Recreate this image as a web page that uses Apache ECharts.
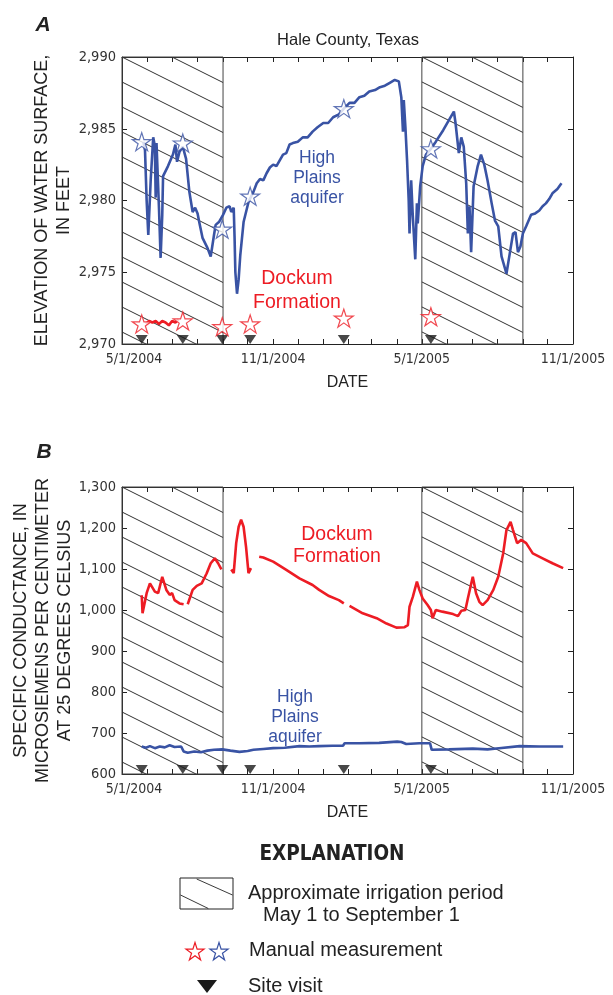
<!DOCTYPE html>
<html lang="en">
<head>
<meta charset="UTF-8">
<title>Hale County, Texas</title>
<style>
  html, body { margin: 0; padding: 0; background: #fff; }
  #chart { width: 613px; height: 995px; }
</style>
<script src="https://cdn.jsdelivr.net/npm/echarts@6/dist/echarts.min.js"></script>
</head>
<body>
<div id="chart"></div>
<script>
// irrigation periods (May 1 - Sept 1)
const irrigation = [['2004-05-01', '2004-09-01'], ['2005-05-01', '2005-09-01']];
// site visits and manual measurements
const siteVisits = ['2004-05-25', '2004-07-14', '2004-08-31', '2004-10-04', '2005-01-26', '2005-05-12'];
const hpManual = [2984.1, 2984.0, 2978.0, 2980.3, 2986.4, 2983.6];
const dkManual = [2971.4, 2971.6, 2971.2, 2971.4, 2971.8, 2971.9];

// A - water level, High Plains aquifer
const hpLevel = [
  ['2004-05-27', 2984.1], ['2004-05-29', 2983.5], ['2004-05-31', 2980.0], ['2004-06-02', 2977.6],
  ['2004-06-05', 2981.5], ['2004-06-08', 2984.4], ['2004-06-10', 2983.8], ['2004-06-11', 2980.2],
  ['2004-06-12', 2984.0], ['2004-06-13', 2983.9], ['2004-06-15', 2979.5], ['2004-06-17', 2976.0],
  ['2004-06-19', 2979.0], ['2004-06-20', 2981.7], ['2004-06-26', 2982.4], ['2004-07-02', 2983.2],
  ['2004-07-05', 2983.9], ['2004-07-07', 2982.7], ['2004-07-10', 2983.4], ['2004-07-14', 2983.75],
  ['2004-07-18', 2982.9], ['2004-07-22', 2980.6], ['2004-07-26', 2979.2], ['2004-07-29', 2979.5],
  ['2004-08-01', 2979.1], ['2004-08-03', 2978.5], ['2004-08-07', 2977.4], ['2004-08-13', 2976.7],
  ['2004-08-17', 2976.1], ['2004-08-21', 2977.6], ['2004-08-23', 2978.3], ['2004-08-27', 2978.5],
  ['2004-09-01', 2979.0], ['2004-09-05', 2979.5], ['2004-09-09', 2979.6], ['2004-09-11', 2979.2],
  ['2004-09-14', 2979.5], ['2004-09-15', 2977.5], ['2004-09-16', 2975.0], ['2004-09-18', 2973.5],
  ['2004-09-20', 2974.5], ['2004-09-22', 2976.2], ['2004-09-26', 2978.5], ['2004-10-02', 2979.9],
  ['2004-10-08', 2980.6], ['2004-10-12', 2981.2], ['2004-10-16', 2981.5], ['2004-10-20', 2981.4],
  ['2004-10-24', 2981.9], ['2004-10-28', 2982.3], ['2004-11-01', 2982.5], ['2004-11-05', 2982.4],
  ['2004-11-09', 2982.8], ['2004-11-13', 2983.2], ['2004-11-17', 2983.3], ['2004-11-21', 2983.9],
  ['2004-11-25', 2984.0], ['2004-12-01', 2984.1], ['2004-12-07', 2984.4], ['2004-12-13', 2984.4],
  ['2004-12-19', 2984.8], ['2004-12-25', 2985.1], ['2005-01-01', 2985.4], ['2005-01-07', 2985.4],
  ['2005-01-13', 2985.8], ['2005-01-20', 2986.0], ['2005-01-26', 2986.4], ['2005-02-02', 2986.8],
  ['2005-02-08', 2986.8], ['2005-02-14', 2987.2], ['2005-02-20', 2987.3], ['2005-02-26', 2987.6],
  ['2005-03-05', 2987.7], ['2005-03-11', 2987.9], ['2005-03-17', 2988.0], ['2005-03-23', 2988.2],
  ['2005-03-29', 2988.4], ['2005-04-03', 2988.3], ['2005-04-06', 2987.2], ['2005-04-08', 2984.8],
  ['2005-04-09', 2987.0], ['2005-04-11', 2985.1], ['2005-04-13', 2982.8], ['2005-04-15', 2980.0],
  ['2005-04-16', 2977.7], ['2005-04-18', 2981.4], ['2005-04-20', 2978.9], ['2005-04-23', 2975.9],
  ['2005-04-25', 2979.8], ['2005-04-26', 2978.4], ['2005-04-29', 2981.0], ['2005-05-02', 2982.4],
  ['2005-05-06', 2983.2], ['2005-05-12', 2983.6], ['2005-05-18', 2984.1], ['2005-05-27', 2984.9],
  ['2005-06-04', 2985.7], ['2005-06-09', 2986.2], ['2005-06-11', 2985.4], ['2005-06-15', 2983.3],
  ['2005-06-18', 2984.4], ['2005-06-21', 2983.75], ['2005-06-24', 2981.2], ['2005-06-26', 2977.7],
  ['2005-06-28', 2979.6], ['2005-06-30', 2976.4], ['2005-07-03', 2981.0], ['2005-07-08', 2982.4],
  ['2005-07-12', 2983.2], ['2005-07-16', 2982.5], ['2005-07-20', 2981.4], ['2005-07-25', 2979.8],
  ['2005-07-29', 2978.6], ['2005-08-02', 2978.2], ['2005-08-06', 2976.1], ['2005-08-12', 2974.9],
  ['2005-08-16', 2976.3], ['2005-08-20', 2977.7], ['2005-08-23', 2977.8], ['2005-08-26', 2976.4],
  ['2005-08-29', 2976.8], ['2005-09-01', 2977.7], ['2005-09-05', 2978.2], ['2005-09-11', 2979.0],
  ['2005-09-16', 2979.1], ['2005-09-21', 2979.3], ['2005-09-25', 2979.6], ['2005-09-29', 2979.8],
  ['2005-10-03', 2980.1], ['2005-10-07', 2980.5], ['2005-10-13', 2980.8], ['2005-10-18', 2981.2]
];
// A - water level, Dockum Formation
const dkLevel = [
  ['2004-05-30', 2971.4], ['2004-06-03', 2971.6], ['2004-06-07', 2971.5], ['2004-06-11', 2971.6],
  ['2004-06-15', 2971.4], ['2004-06-19', 2971.6], ['2004-06-23', 2971.5], ['2004-06-27', 2971.3],
  ['2004-07-01', 2971.6], ['2004-07-05', 2971.5], ['2004-07-09', 2971.7]
];

// B - specific conductance, Dockum Formation (null = gap in record)
const dkCond = [
  ['2004-05-25', 1036], ['2004-05-26', 992], ['2004-05-31', 1041], ['2004-06-04', 1065],
  ['2004-06-10', 1045], ['2004-06-14', 1041], ['2004-06-19', 1081], ['2004-06-24', 1049],
  ['2004-06-28', 1037], ['2004-07-01', 1041], ['2004-07-04', 1024], ['2004-07-10', 1016],
  ['2004-07-15', 1014], ['2004-07-17', null],
  ['2004-07-20', 1014], ['2004-07-26', 1049], ['2004-07-31', 1059], ['2004-08-06', 1065],
  ['2004-08-12', 1089], ['2004-08-17', 1114], ['2004-08-22', 1126], ['2004-08-26', 1114],
  ['2004-08-30', 1099], ['2004-09-05', null],
  ['2004-09-11', 1099], ['2004-09-14', 1090], ['2004-09-17', 1163], ['2004-09-20', 1203],
  ['2004-09-23', 1220], ['2004-09-26', 1203], ['2004-09-29', 1154], ['2004-10-02', 1090],
  ['2004-10-05', 1102], ['2004-10-10', null],
  ['2004-10-15', 1130], ['2004-10-20', 1128], ['2004-11-01', 1118], ['2004-11-17', 1098],
  ['2004-12-03', 1077], ['2004-12-19', 1061], ['2004-12-27', 1049], ['2005-01-08', 1034],
  ['2005-01-20', 1024], ['2005-01-26', 1016], ['2005-01-29', null],
  ['2005-02-02', 1010], ['2005-02-18', 992], ['2005-03-07', 980], ['2005-03-19', 967],
  ['2005-03-31', 957], ['2005-04-10', 958], ['2005-04-14', 963], ['2005-04-16', 1008],
  ['2005-04-20', 1032], ['2005-04-25', 1069], ['2005-04-28', 1049], ['2005-05-02', 1028],
  ['2005-05-08', 1012], ['2005-05-12', 1000], ['2005-05-14', 980], ['2005-05-18', 1000],
  ['2005-05-26', 996], ['2005-06-08', 990], ['2005-06-14', 985], ['2005-06-18', 998],
  ['2005-06-23', 1000], ['2005-06-26', 1028], ['2005-07-02', 1081], ['2005-07-06', 1041],
  ['2005-07-10', 1020], ['2005-07-14', 1012], ['2005-07-20', 1024], ['2005-07-27', 1049],
  ['2005-08-02', 1081], ['2005-08-08', 1138], ['2005-08-12', 1195], ['2005-08-17', 1215],
  ['2005-08-20', 1195], ['2005-08-25', 1163], ['2005-08-30', 1171], ['2005-09-05', 1163],
  ['2005-09-13', 1138], ['2005-09-25', 1126], ['2005-10-07', 1114], ['2005-10-20', 1102]
];
// B - specific conductance, High Plains aquifer
const hpCond = [
  ['2004-05-25', 667], ['2004-05-30', 664], ['2004-06-04', 668], ['2004-06-10', 663],
  ['2004-06-16', 667], ['2004-06-22', 665], ['2004-06-28', 670], ['2004-07-04', 666],
  ['2004-07-12', 667], ['2004-07-15', 655], ['2004-07-20', 652], ['2004-07-28', 655],
  ['2004-08-05', 653], ['2004-08-13', 657], ['2004-08-21', 659], ['2004-08-31', 660],
  ['2004-09-10', 657], ['2004-09-21', 654], ['2004-10-01', 656], ['2004-10-08', 659],
  ['2004-10-20', 661], ['2004-11-01', 663], ['2004-11-15', 664], ['2004-12-03', 668],
  ['2004-12-15', 667], ['2004-12-27', 668], ['2005-01-12', 669], ['2005-01-25', 669],
  ['2005-01-27', 675], ['2005-02-14', 675], ['2005-03-10', 676], ['2005-04-01', 679],
  ['2005-04-06', 678], ['2005-04-12', 673], ['2005-04-28', 675], ['2005-05-11', 675],
  ['2005-05-13', 659], ['2005-06-03', 660], ['2005-07-02', 662], ['2005-07-20', 660],
  ['2005-08-03', 663], ['2005-08-28', 668], ['2005-09-21', 667], ['2005-10-20', 667]
];

const dateLabels = ['2004-05-01', '2004-11-01', '2005-05-01', '2005-11-01'];
const levelAxis = { min: 2970, max: 2990, interval: 5 };
const condAxis = { min: 600, max: 1300, interval: 100 };

const BLUE = '#3953a4';
const RED = '#ed1c24';
const INK = '#222';
const FONT = "'Liberation Sans', Arial, sans-serif";
const NARROW = "'Liberation Sans Narrow', 'DejaVu Sans Condensed', sans-serif";
// five-point star outline in a 100 x 100 box
const STAR_PTS = [[50, 0], [61.17, 34.63], [97.55, 34.55], [68.07, 55.87], [79.39, 90.45],
  [50, 69], [20.61, 90.45], [31.93, 55.87], [2.45, 34.55], [38.83, 34.63]];
const STAR = 'path://M' + STAR_PTS.map(p => p.join(' ')).join('L') + 'Z';

// dates become timestamps on a plain value axis
const t = s => +echarts.time.parse(s);
const ts = arr => arr.map(p => [t(p[0]), p[1]]);
const monthTicks = [];
for (let m = 0; m <= 18; m++) monthTicks.push(+new Date(2004, 4 + m, 1));

// diagonal hatch tile, lines slope down to the right
function hatch(phase) {
  const c = document.createElement('canvas');
  c.width = 50; c.height = 25;
  const g = c.getContext('2d');
  g.strokeStyle = '#1a1a1a';
  g.lineWidth = 0.9;
  for (let k = -2; k <= 2; k++) {
    g.beginPath();
    g.moveTo(0, phase + 25 * k);
    g.lineTo(50, phase + 25 * k + 25);
    g.stroke();
  }
  return c;
}

function starAt(cx, cy, w, h) {
  return STAR_PTS.map(p => [cx + (p[0] - 50) * w / 100, cy + (p[1] - 47) * h / 94]);
}

function fmtDate(v) {
  const d = new Date(v);
  const s = (d.getMonth() + 1) + '/' + d.getDate() + '/' + d.getFullYear();
  return v === t(dateLabels[0]) ? '{first|' + s + '}' : s;
}

function xAxes(grid, nameText) {
  const base = {
    type: 'value', gridIndex: grid,
    min: t(dateLabels[0]), max: t(dateLabels[3]),
    axisLine: { show: true, onZero: false, lineStyle: { color: INK, width: 1 } },
    axisTick: { show: true, inside: true, length: 5, customValues: monthTicks, lineStyle: { color: INK } },
    splitLine: { show: false }
  };
  return [
    Object.assign({}, base, {
      position: 'bottom',
      name: nameText, nameLocation: 'middle', nameGap: 31, nameMoveOverlap: false,
      nameTextStyle: { fontFamily: FONT, fontSize: 16, color: INK },
      axisLabel: {
        customValues: dateLabels.map(t), formatter: fmtDate, margin: 8,
        fontFamily: NARROW, fontSize: 14, color: '#333',
        rich: { first: { fontFamily: NARROW, fontSize: 14, color: '#333', padding: [0, 0, 0, 24] } }
      }
    }),
    Object.assign({}, base, { position: 'top', axisLabel: { show: false } })
  ];
}

function yAxes(grid, range, nameText, gap) {
  const base = {
    type: 'value', gridIndex: grid,
    min: range.min, max: range.max, interval: range.interval,
    axisLine: { show: true, onZero: false, lineStyle: { color: INK, width: 1 } },
    axisTick: { show: true, inside: true, length: 5, lineStyle: { color: INK } },
    splitLine: { show: false }
  };
  return [
    Object.assign({}, base, {
      position: 'left',
      name: nameText, nameLocation: 'middle', nameGap: gap, nameMoveOverlap: false,
      nameTextStyle: { fontFamily: FONT, fontSize: 18, color: INK, lineHeight: 22, align: 'center' },
      axisLabel: {
        margin: 6, fontFamily: NARROW, fontSize: 14.5, color: '#333',
        formatter: v => v.toLocaleString('en-US')
      }
    }),
    Object.assign({}, base, { position: 'right', axisLabel: { show: false } })
  ];
}

function hatchSeries(xi, yi, phase) {
  return {
    type: 'line', xAxisIndex: xi, yAxisIndex: yi, data: [], z: 1, silent: true,
    markArea: {
      silent: true,
      itemStyle: {
        color: { image: hatch(phase), repeat: 'repeat' },
        borderColor: '#444', borderWidth: 1
      },
      data: irrigation.map(p => [{ xAxis: t(p[0]) }, { xAxis: t(p[1]) }])
    }
  };
}

function lineSeries(xi, yi, data, color) {
  return {
    type: 'line', xAxisIndex: xi, yAxisIndex: yi, data: ts(data), z: 3,
    showSymbol: false, connectNulls: false,
    lineStyle: { color: color, width: 2.6 }
  };
}

function visitSeries(xi, yi, yMin) {
  return {
    type: 'scatter', xAxisIndex: xi, yAxisIndex: yi, z: 4, clip: false,
    symbol: 'triangle', symbolRotate: 180, symbolSize: [12, 9], symbolOffset: [0, -4.5],
    itemStyle: { color: '#1a1a1a' },
    data: siteVisits.map(d => [t(d), yMin])
  };
}

function starSeries(values, color) {
  return {
    type: 'scatter', xAxisIndex: 0, yAxisIndex: 0, z: 5,
    symbol: STAR, symbolSize: [19, 18],
    itemStyle: { color: '#fff', borderColor: color, borderWidth: 1.2 },
    data: siteVisits.map((d, i) => [t(d), values[i]])
  };
}

const chart = echarts.init(document.getElementById('chart'), null, { renderer: 'canvas' });

chart.setOption({
  animation: false,
  backgroundColor: '#fff',
  grid: [
    { left: 122, right: 40, top: 57, height: 287, outerBoundsMode: 'none', containLabel: false },
    { left: 122, right: 40, top: 487, height: 287, outerBoundsMode: 'none', containLabel: false }
  ],
  xAxis: [].concat(xAxes(0, 'DATE'), xAxes(1, 'DATE')),
  yAxis: [].concat(
    yAxes(0, levelAxis, 'ELEVATION OF WATER SURFACE,\nIN FEET', 47),
    yAxes(1, condAxis, 'SPECIFIC CONDUCTANCE, IN\nMICROSIEMENS PER CENTIMETER\nAT 25 DEGREES CELSIUS', 46)
  ),
  series: [
    hatchSeries(0, 0, 21),
    lineSeries(0, 0, dkLevel, RED),
    lineSeries(0, 0, hpLevel, BLUE),
    visitSeries(0, 0, levelAxis.min),
    starSeries(dkManual, RED),
    starSeries(hpManual, BLUE),
    hatchSeries(2, 2, 1),
    lineSeries(2, 2, dkCond, RED),
    lineSeries(2, 2, hpCond, BLUE),
    visitSeries(2, 2, condAxis.min)
  ],
  graphic: [
    { type: 'text', x: 43, y: 25, style: { text: 'A', font: 'italic bold 21px ' + FONT, fill: INK, textAlign: 'center', textVerticalAlign: 'middle' } },
    { type: 'text', x: 44, y: 452, style: { text: 'B', font: 'italic bold 21px ' + FONT, fill: INK, textAlign: 'center', textVerticalAlign: 'middle' } },
    { type: 'text', x: 348, y: 40, style: { text: 'Hale County, Texas', font: '16.5px ' + FONT, fill: INK, textAlign: 'center', textVerticalAlign: 'middle' } },
    // panel A labels
    { type: 'text', x: 317, y: 178, z: 10, style: { text: 'High\nPlains\naquifer', font: '17.5px ' + FONT, lineHeight: 20, fill: BLUE, textAlign: 'center', textVerticalAlign: 'middle' } },
    { type: 'text', x: 297, y: 291, z: 10, style: { text: 'Dockum\nFormation', font: '19.5px ' + FONT, lineHeight: 24, fill: RED, textAlign: 'center', textVerticalAlign: 'middle' } },
    // panel B labels
    { type: 'text', x: 337, y: 546, z: 10, style: { text: 'Dockum\nFormation', font: '19.5px ' + FONT, lineHeight: 22, fill: RED, textAlign: 'center', textVerticalAlign: 'middle' } },
    { type: 'text', x: 295, y: 717, z: 10, style: { text: 'High\nPlains\naquifer', font: '17.5px ' + FONT, lineHeight: 20, fill: BLUE, textAlign: 'center', textVerticalAlign: 'middle' } },
    // explanation
    { type: 'text', x: 332, y: 855, style: { text: 'EXPLANATION', font: 'bold 20.5px ' + NARROW, fill: INK, textAlign: 'center', textVerticalAlign: 'middle' } },
    { type: 'rect', shape: { x: 180, y: 878, width: 53, height: 31 }, style: { fill: '#fff', stroke: INK, lineWidth: 1 } },
    { type: 'line', shape: { x1: 196.7, y1: 879, x2: 232.5, y2: 895 }, style: { stroke: INK, lineWidth: 0.9 } },
    { type: 'line', shape: { x1: 180.5, y1: 895, x2: 208.3, y2: 908.5 }, style: { stroke: INK, lineWidth: 0.9 } },
    { type: 'text', x: 248, y: 893, style: { text: 'Approximate irrigation period', font: '20px ' + FONT, fill: INK, textVerticalAlign: 'middle' } },
    { type: 'text', x: 263, y: 915, style: { text: 'May 1 to September 1', font: '20px ' + FONT, fill: INK, textVerticalAlign: 'middle' } },
    { type: 'polygon', shape: { points: starAt(195, 951.5, 19, 18) }, style: { fill: '#fff', stroke: RED, lineWidth: 1.2 } },
    { type: 'polygon', shape: { points: starAt(219, 951.5, 19, 18) }, style: { fill: '#fff', stroke: BLUE, lineWidth: 1.2 } },
    { type: 'text', x: 249, y: 950, style: { text: 'Manual measurement', font: '20px ' + FONT, fill: INK, textVerticalAlign: 'middle' } },
    { type: 'polygon', shape: { points: [[197, 980], [217, 980], [207, 993]] }, style: { fill: '#1a1a1a' } },
    { type: 'text', x: 248, y: 986, style: { text: 'Site visit', font: '20px ' + FONT, fill: INK, textVerticalAlign: 'middle' } }
  ]
});
</script>
</body>
</html>
